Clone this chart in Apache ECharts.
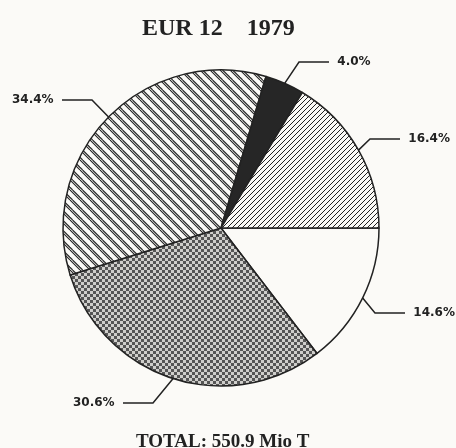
<!DOCTYPE html>
<html>
<head>
<meta charset="utf-8">
<script src="https://cdn.jsdelivr.net/npm/echarts@6/dist/echarts.min.js"></script>
<style>
  html, body { margin: 0; padding: 0; background: #fbfaf7; }
  #chart { width: 456px; height: 448px; }
</style>
</head>
<body>
<div id="chart"></div>
<script>
// shares of the total, clockwise starting at 3 o'clock
const shares = [14.6, 30.6, 34.4, 4.0, 16.4]
const shareLabels = ['14.6%', '30.6%', '34.4%', '4.0%', '16.4%']
const titleText = 'EUR 12    1979'
const totalText = 'TOTAL: 550.9 Mio T'

const paper = '#fbfaf7'
const ink = '#222'
const gap = 8  // two bold spaces, leaves air between line and text

// where each label text starts (left x, middle y), same order as shares
const labelSpots = [[413, 313], [73, 403], [12, 100], [337, 62], [408, 139]]

const makeTile = (size, draw) => {
  const c = document.createElement('canvas')
  c.width = c.height = size
  const ctx = c.getContext('2d')
  ctx.fillStyle = paper
  ctx.fillRect(0, 0, size, size)
  ctx.strokeStyle = ink
  ctx.fillStyle = ink
  draw(ctx, size)
  return { image: c, repeat: 'repeat' }
}

// double "\" hatch
const backHatch = makeTile(10, (ctx, s) => {
  ctx.lineWidth = 1.1
  ;[-s, 0, s].forEach(of => {
    ;[0, 2.6].forEach(d => {
      ctx.beginPath()
      ctx.moveTo(of + d, 0)
      ctx.lineTo(of + d + s, s)
      ctx.stroke()
    })
  })
})

// single "/" hatch
const fwdHatch = makeTile(5, (ctx, s) => {
  ctx.lineWidth = 1
  ;[-s, 0, s].forEach(of => {
    ctx.beginPath()
    ctx.moveTo(of, s)
    ctx.lineTo(of + s, 0)
    ctx.stroke()
  })
})

// fine checker, reads as grey cross-hatch
const crossHatch = makeTile(6, (ctx, s) => {
  ctx.fillStyle = '#cfcecb'
  ctx.fillRect(0, 0, s, s)
  ctx.fillStyle = '#555'
  ctx.fillRect(0, 0, 3, 3)
  ctx.fillRect(3, 3, 3, 3)
})

const fills = [paper, crossHatch, backHatch, '#262626', fwdHatch]

const chart = echarts.init(document.getElementById('chart'))

const onLeft = (i) => labelSpots[i][0] < 221

const option = {
  backgroundColor: paper,
  animation: false,
  title: [
    {
      text: titleText,
      left: 137,
      top: 12,
      textStyle: { fontFamily: 'Liberation Serif', fontWeight: 'bold', fontSize: 24, color: ink }
    },
    {
      text: totalText,
      left: 131,
      top: 428,
      textStyle: { fontFamily: 'Liberation Serif', fontWeight: 'bold', fontSize: 19, color: ink }
    }
  ],
  series: [
    {
      type: 'pie',
      center: [221, 228],
      radius: [0, 158],
      startAngle: 0,
      clockwise: true,
      silent: true,
      data: shares.map((v, i) => ({
        value: v,
        name: shareLabels[i],
        itemStyle: { color: fills[i] }
      })),
      itemStyle: { borderColor: ink, borderWidth: 1.5 },
      label: {
        show: true,
        position: 'outside',
        overflow: 'none',
        formatter: (p) => onLeft(p.dataIndex) ? p.name + '  ' : '  ' + p.name,
        fontFamily: 'DejaVu Sans',
        fontWeight: 'bold',
        fontSize: 12,
        color: ink
      },
      labelLine: {
        show: true,
        length: 10,
        length2: 30,
        lineStyle: { color: ink, width: 1.5 }
      },
      labelLayout: (p) => {
        const spot = labelSpots[p.dataIndex]
        const x = onLeft(p.dataIndex) ? spot[0] : spot[0] - gap
        return { x: x, y: spot[1], align: 'left', verticalAlign: 'middle' }
      }
    }
  ]
}

chart.setOption(option)
</script>
</body>
</html>
